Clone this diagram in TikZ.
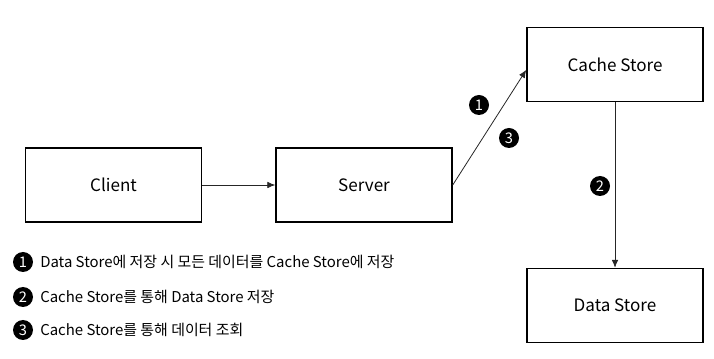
\documentclass[tikz,border=0pt]{standalone}
\usepackage{fontspec}
\setmainfont{Noto Sans CJK KR}
\usetikzlibrary{arrows.meta}
\begin{document}
\begin{tikzpicture}[x=0.75pt,y=-0.75pt,
  box/.style={draw=black,line width=1.1pt,minimum width=132pt,minimum height=55.5pt,inner sep=0pt,font=\fontsize{12.8}{14}\selectfont},
  conn/.style={draw=black!85,line width=0.6pt,-{Latex[length=6pt,width=5pt]}},
  num/.style={circle,fill=black,text=white,inner sep=0pt,minimum size=15pt,font=\fontsize{11}{11}\selectfont},
  legend/.style={anchor=west,inner sep=0pt,font=\fontsize{11.2}{13}\selectfont}]
\useasboundingbox (0,0) rectangle (714,359);
\node[box] (client) at (113.5,185) {Client};
\node[box] (server) at (364,185) {Server};
\node[box] (cache) at (615,64.5) {Cache Store};
\node[box] (data) at (615,305.5) {Data Store};
\draw[conn] (client.east) -- (server.west);
\coordinate (cachein) at ([yshift=-4pt]cache.west);
\draw[conn] (server.east) -- (cachein);
\draw[conn] (cache.south) -- (data.north);
\node[num] (n1) at (479,105) {1};
\node[num] (n3) at (509,138) {3};
\node[num] (n2) at (600,186) {2};
\node[num] (l1) at (23,262) {1};
\node[num] (l2) at (23,297) {2};
\node[num] (l3) at (23,330) {3};
\node[legend] (t1) at (40,262) {Data Store에 저장 시 모든 데이터를 Cache Store에 저장};
\node[legend] (t2) at (40,297) {Cache Store를 통해 Data Store 저장};
\node[legend] (t3) at (40,330) {Cache Store를 통해 데이터 조회};
\end{tikzpicture}
\end{document}
